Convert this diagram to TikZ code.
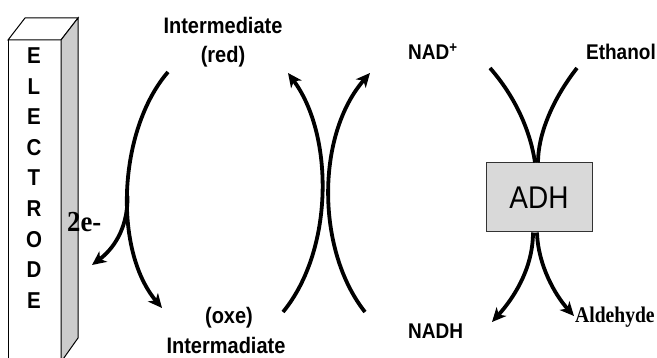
\documentclass[tikz,border=0pt]{standalone}
\usepackage{fontspec}
\usepackage{graphicx}
\setmainfont{Liberation Sans}
\newfontfamily\serifbf{Liberation Serif}
\usetikzlibrary{arrows.meta}
\newcommand\tallx[2][1]{\scalebox{#1}[1.12]{#2}}
\tikzset{
  flow/.style={line width=3.8pt, line cap=butt},
  flowarr/.style={flow, -{Stealth[length=14pt,width=13pt,inset=4pt]}},
  lab/.style={font=\bfseries\fontsize{19}{21}\selectfont, inner sep=0pt},
  ilab/.style={font=\bfseries\fontsize{20}{22}\selectfont, inner sep=0pt},
  letter/.style={font=\bfseries\fontsize{20.5}{22}\selectfont, inner sep=0pt},
  twoelab/.style={font=\serifbf\bfseries\fontsize{29}{31}\selectfont, inner sep=0pt},
  serlab/.style={font=\serifbf\bfseries\fontsize{20}{22}\selectfont, inner sep=0pt},
}
\begin{document}
\begin{tikzpicture}[x=1pt,y=-1pt]
\useasboundingbox (0,0) rectangle (657,358);
% electrode
\coordinate (ftl) at (8,40); \coordinate (ftr) at (61,40);
\coordinate (btl) at (25,18); \coordinate (btr) at (78,18);
\coordinate (bbr) at (78,338); \coordinate (fbr) at (61,362); \coordinate (fbl) at (8,362);
\filldraw[fill=white, draw=black, line width=1pt] (ftl) -- (ftr) -- (fbr) -- (fbl) -- cycle;
\filldraw[fill=white, draw=black, line width=1pt] (ftl) -- (btl) -- (btr) -- (ftr) -- cycle;
\filldraw[fill=black!20, draw=black, line width=1pt] (ftr) -- (btr) -- (bbr) -- (fbr) -- cycle;
\foreach \l [count=\i] in {E,L,E,C,T,R,O,D,E}
  \node[letter] (el\i) at (34,{25+30.6*\i}) {\tallx{\l}};
\node[twoelab, anchor=base west] (twoe) at (67,232) {\scalebox{0.92}[1]{2e-}};
% left cycle
\coordinate (a1s) at (168,72); \coordinate (a1e) at (162,308);
\coordinate (br) at (127.5,196); \coordinate (bre) at (92,265);
\draw[flowarr] (a1s) .. controls (118,130) and (113,250) .. (a1e);
\draw[flowarr] (br) .. controls (128,230) and (112,250) .. (bre);
\node[ilab] (ired) at (223,25) {\tallx{Intermediate}};
\node[ilab] (red) at (223,57) {\tallx{(red)}};
\node[ilab] (oxe) at (229,318) {\tallx{(oxe)}};
\node[ilab] (ioxe) at (226,345) {\tallx{Intermadiate}};
% middle pair
\coordinate (m1s) at (283,312); \coordinate (m1e) at (288,73);
\coordinate (m2s) at (365,312); \coordinate (m2e) at (370,73);
\draw[flowarr] (m1s) .. controls (334,250) and (334,135) .. (m1e);
\draw[flowarr] (m2s) .. controls (316,250) and (316,135) .. (m2e);
% ADH
\node[draw=black!80, fill=black!15, line width=1pt, minimum width=106pt, minimum height=69pt, inner sep=0pt,
      font=\fontsize{28}{30}\selectfont] (adh) at (539,197.5) {\tallx{ADH}};
\node[lab, anchor=west] (nad) at (408,52) {\tallx{NAD\textsuperscript{+}}};
\node[lab, anchor=east] (eth) at (656,52) {\tallx{Ethanol}};
\node[lab, anchor=west] (nadh) at (408,331) {\tallx{NADH}};
\node[serlab, anchor=west] (ald) at (575,317) {\tallx[0.98]{Aldehyde}};
\coordinate (nads) at (490,68); \coordinate (eths) at (577,68);
\coordinate (nadhe) at (492,322); \coordinate (alde) at (574,316);
\draw[flow] (nads) .. controls (518,100) and (531,135) .. ([xshift=-4pt]adh.north);
\draw[flow] (eths) .. controls (552,100) and (538,135) .. ([xshift=-1pt]adh.north);
\draw[flowarr] ([xshift=-6pt]adh.south) .. controls (533,270) and (512,300) .. (nadhe);
\draw[flowarr] ([xshift=-2pt]adh.south) .. controls (538,265) and (555,295) .. (alde);
\end{tikzpicture}
\end{document}
